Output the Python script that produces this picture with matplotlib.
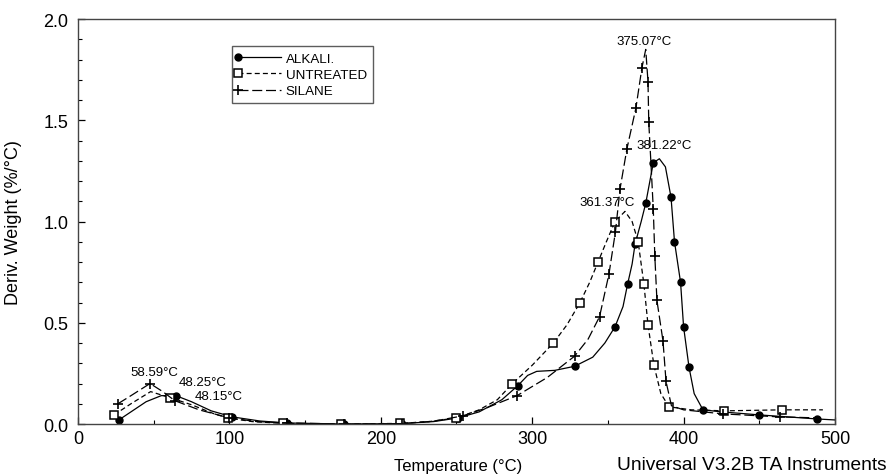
import matplotlib
matplotlib.use("Agg")
import matplotlib.pyplot as plt
from matplotlib.legend_handler import HandlerLine2D
from matplotlib.ticker import MultipleLocator

plt.rcParams['font.family'] = ['Liberation Sans', 'DejaVu Sans']

# ALKALI (solid line, filled circles); mk = 1 where a marker is drawn
alkali_x = [27, 35, 45, 55, 64.7, 75, 88, 102, 120, 138, 176, 214, 235, 251, 265, 280,
            290.6, 297, 303, 315, 328, 340, 348, 354.7, 360, 363, 366, 368, 372, 375,
            380, 384, 388, 391.7, 394, 398, 400, 403.6, 407, 412.8, 425, 450, 488, 500]
alkali_y = [0.02, 0.06, 0.11, 0.14, 0.14, 0.11, 0.065, 0.035, 0.015, 0.005, 0.0, 0.002,
            0.012, 0.03, 0.06, 0.12, 0.19, 0.24, 0.26, 0.265, 0.285, 0.33, 0.40, 0.48,
            0.58, 0.69, 0.79, 0.89, 1.0, 1.09, 1.29, 1.31, 1.27, 1.12, 0.90, 0.70, 0.48,
            0.28, 0.15, 0.07, 0.06, 0.045, 0.025, 0.02]
alkali_mk = [1, 0, 0, 0, 1, 0, 0, 1, 0, 1, 1, 1, 0, 1, 0, 0,
             1, 0, 0, 0, 1, 0, 0, 1, 0, 1, 0, 1, 0, 1,
             1, 0, 0, 1, 1, 1, 1, 1, 0, 1, 0, 1, 1, 0]

# UNTREATED (short dashes, open squares)
untreated_x = [23.8, 35, 48, 60.8, 75, 90, 99, 115, 135.6, 174, 212.7, 232, 250, 265, 277,
               287, 300, 314, 323, 331.6, 338, 343.5, 349, 354.7, 361.3, 366, 370, 373.8,
               376.5, 380.4, 385, 390.4, 405, 427, 465, 492]
untreated_y = [0.045, 0.1, 0.16, 0.13, 0.095, 0.05, 0.03, 0.012, 0.003, 0.0, 0.003, 0.012,
               0.03, 0.07, 0.12, 0.2, 0.29, 0.4, 0.49, 0.6, 0.7, 0.8, 0.9, 1.0, 1.05, 1.0,
               0.90, 0.69, 0.49, 0.29, 0.15, 0.085, 0.07, 0.065, 0.07, 0.07]
untreated_mk = [1, 0, 0, 1, 0, 0, 1, 0, 1, 1, 1, 0, 1, 0, 0,
                1, 0, 1, 0, 1, 0, 1, 0, 1, 0, 0, 1, 1,
                1, 1, 0, 1, 0, 1, 1, 0]

# SILANE (long dashes, plus markers)
silane_x = [26.4, 35, 47.6, 56, 64, 80, 100, 118, 138, 176, 214, 235, 254, 270, 290, 310,
            328, 337, 344.5, 350.7, 355, 358, 362.6, 368.5, 372.5, 375, 376.5, 377, 378.5,
            380, 381, 382.4, 386.4, 388.4, 392, 400, 426, 463.7, 490]
silane_y = [0.10, 0.14, 0.2, 0.16, 0.115, 0.07, 0.03, 0.012, 0.005, 0.0, 0.002, 0.014,
            0.04, 0.08, 0.14, 0.23, 0.335, 0.42, 0.53, 0.74, 0.95, 1.16, 1.36, 1.56, 1.76,
            1.85, 1.69, 1.49, 1.28, 1.06, 0.83, 0.61, 0.41, 0.21, 0.09, 0.07, 0.05, 0.035, 0.03]
silane_mk = [1, 0, 1, 0, 1, 0, 1, 0, 1, 1, 1, 0, 1, 0, 1, 0,
             1, 0, 1, 1, 1, 1, 1, 1, 1, 0, 1, 1, 0,
             1, 1, 1, 1, 1, 0, 0, 1, 1, 0]

peak_labels = ['375.07°C', '381.22°C', '361.37°C', '58.59°C', '48.25°C', '48.15°C']
peak_label_x = [374.2, 387.0, 349.4, 50.4, 82.6, 93.1]
peak_label_y = [1.89, 1.38, 1.095, 0.255, 0.206, 0.137]


def marks(flags):
    return [i for i, m in enumerate(flags) if m]


class MarkerAtStart(HandlerLine2D):
    # legend: marker on the left end of the line sample, like the TA software
    def create_artists(self, *args, **kwargs):
        arts = super().create_artists(*args, **kwargs)
        arts[0].set_markevery([0])
        return arts


fig = plt.figure(figsize=(8.88, 4.77), dpi=100)
ax = fig.add_axes([0.0878, 0.109, 0.8525, 0.849])

l1, = ax.plot(alkali_x, alkali_y, color='black', lw=0.9, ls='-',
              marker='o', ms=5, markevery=marks(alkali_mk), label='ALKALI.')
l2, = ax.plot(untreated_x, untreated_y, color='black', lw=0.9, ls=(0, (4, 2.5)),
              marker='s', ms=6, mfc='white', mew=1.1, markevery=marks(untreated_mk),
              label='UNTREATED')
l3, = ax.plot(silane_x, silane_y, color='black', lw=0.9, ls=(0, (8, 3)),
              marker='+', ms=6.5, mew=1.2, markevery=marks(silane_mk), label='SILANE')

for txt, x, y in zip(peak_labels, peak_label_x, peak_label_y):
    ax.text(x, y, txt, ha='center', va='center', fontsize=9.5)

ax.set_xlim(0, 500)
ax.set_ylim(0, 2.0)
ax.xaxis.set_major_locator(MultipleLocator(100))
ax.xaxis.set_minor_locator(MultipleLocator(50))
ax.yaxis.set_major_locator(MultipleLocator(0.5))
ax.yaxis.set_minor_locator(MultipleLocator(0.1))
ax.yaxis.set_major_formatter(plt.FormatStrFormatter('%.1f'))
ax.tick_params(which='both', direction='in', labelsize=13, top=False, right=False)
ax.tick_params(which='major', length=5, width=0.9)
ax.tick_params(which='minor', length=3, width=0.8)
ax.tick_params(axis='x', which='major', pad=4)
ax.tick_params(axis='y', which='major', pad=7)
for s in ax.spines.values():
    s.set_color('#444444')
    s.set_linewidth(1.0)

ax.set_ylabel('Deriv. Weight (%/°C)', fontsize=13)
ax.yaxis.set_label_coords(-0.074, 0.5)
fig.text(0.516, 0.006, 'Temperature (°C)', ha='center', va='bottom', fontsize=12)
fig.text(0.998, 0.006, 'Universal V3.2B TA Instruments', ha='right', va='bottom', fontsize=13.8)

leg = ax.legend(handles=[l1, l2, l3], loc='upper left', bbox_to_anchor=(0.204, 0.933),
                handler_map={l1: MarkerAtStart(numpoints=1), l2: MarkerAtStart(numpoints=1),
                             l3: MarkerAtStart(numpoints=1)},
                fontsize=9.6, frameon=True, fancybox=False, edgecolor='#333333',
                handlelength=3.2, handletextpad=0.35, labelspacing=0.3,
                borderpad=0.45, borderaxespad=0)
leg.get_frame().set_linewidth(1.0)

fig.savefig('out.png', dpi=100)
